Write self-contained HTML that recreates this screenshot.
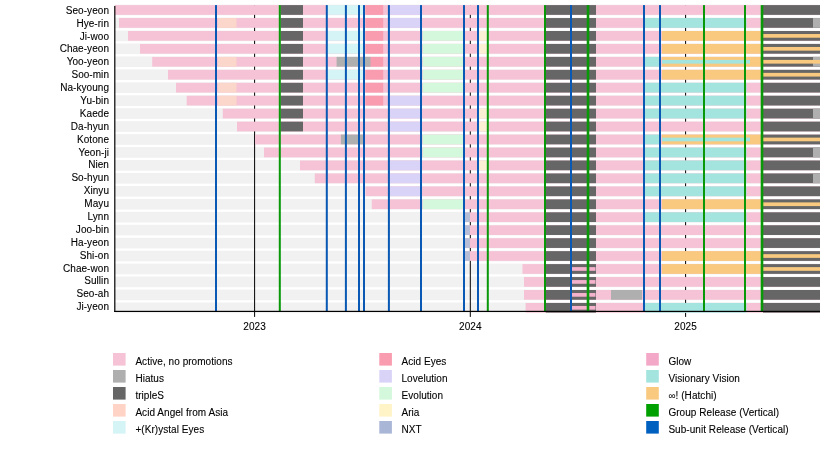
<!DOCTYPE html>
<html><head><meta charset="utf-8"><style>
html,body{margin:0;padding:0;background:#fff;width:830px;height:461px;overflow:hidden}
svg{display:block;filter:blur(0.35px)}
text{font-family:"Liberation Sans",sans-serif;font-size:10px;fill:#000;stroke:#000;stroke-width:0.1px;letter-spacing:0.05px}
</style></head><body>
<svg width="830" height="461" viewBox="0 0 830 461">
<rect x="115" y="4.65" width="705" height="10.65" fill="#F1F1F1"/>
<rect x="115" y="17.6" width="705" height="10.65" fill="#F1F1F1"/>
<rect x="115" y="30.55" width="705" height="10.65" fill="#F1F1F1"/>
<rect x="115" y="43.5" width="705" height="10.65" fill="#F1F1F1"/>
<rect x="115" y="56.45" width="705" height="10.65" fill="#F1F1F1"/>
<rect x="115" y="69.4" width="705" height="10.65" fill="#F1F1F1"/>
<rect x="115" y="82.35" width="705" height="10.65" fill="#F1F1F1"/>
<rect x="115" y="95.3" width="705" height="10.65" fill="#F1F1F1"/>
<rect x="115" y="108.25" width="705" height="10.65" fill="#F1F1F1"/>
<rect x="115" y="121.2" width="705" height="10.65" fill="#F1F1F1"/>
<rect x="115" y="134.15" width="705" height="10.65" fill="#F1F1F1"/>
<rect x="115" y="147.1" width="705" height="10.65" fill="#F1F1F1"/>
<rect x="115" y="160.05" width="705" height="10.65" fill="#F1F1F1"/>
<rect x="115" y="173" width="705" height="10.65" fill="#F1F1F1"/>
<rect x="115" y="185.95" width="705" height="10.65" fill="#F1F1F1"/>
<rect x="115" y="198.9" width="705" height="10.65" fill="#F1F1F1"/>
<rect x="115" y="211.85" width="705" height="10.65" fill="#F1F1F1"/>
<rect x="115" y="224.8" width="705" height="10.65" fill="#F1F1F1"/>
<rect x="115" y="237.75" width="705" height="10.65" fill="#F1F1F1"/>
<rect x="115" y="250.7" width="705" height="10.65" fill="#F1F1F1"/>
<rect x="115" y="263.65" width="705" height="10.65" fill="#F1F1F1"/>
<rect x="115" y="276.6" width="705" height="10.65" fill="#F1F1F1"/>
<rect x="115" y="289.55" width="705" height="10.65" fill="#F1F1F1"/>
<rect x="115" y="302.5" width="705" height="10.65" fill="#F1F1F1"/>
<rect x="254.1" y="5.1" width="1" height="311.8" fill="#000"/>
<rect x="469.8" y="5.1" width="1" height="311.8" fill="#000"/>
<rect x="685.1" y="5.1" width="1" height="311.8" fill="#000"/>
<rect x="115" y="5.1" width="705" height="9.75" fill="#F5C3D5"/>
<rect x="280.5" y="5.1" width="22.5" height="9.75" fill="#666666"/>
<rect x="327" y="5.1" width="37.2" height="9.75" fill="#D4F4F6"/>
<rect x="365.4" y="5.1" width="17.8" height="9.75" fill="#F99CAF"/>
<rect x="390" y="5.1" width="30.4" height="9.75" fill="#DAD3F8"/>
<rect x="545.7" y="5.1" width="50.3" height="9.75" fill="#666666"/>
<rect x="763" y="5.1" width="57" height="9.75" fill="#666666"/>
<rect x="119" y="18.05" width="701" height="9.75" fill="#F5C3D5"/>
<rect x="218" y="18.05" width="18.5" height="9.75" fill="#FBD6CA"/>
<rect x="280.5" y="18.05" width="22.5" height="9.75" fill="#666666"/>
<rect x="365.4" y="18.05" width="17.8" height="9.75" fill="#F99CAF"/>
<rect x="390" y="18.05" width="30.4" height="9.75" fill="#DAD3F8"/>
<rect x="545.7" y="18.05" width="50.3" height="9.75" fill="#666666"/>
<rect x="645" y="18.05" width="101.5" height="9.75" fill="#A3E4DF"/>
<rect x="763" y="18.05" width="57" height="9.75" fill="#666666"/>
<rect x="813" y="18.05" width="7" height="9.75" fill="#AFAFAF"/>
<rect x="128" y="31" width="692" height="9.75" fill="#F5C3D5"/>
<rect x="280.5" y="31" width="22.5" height="9.75" fill="#666666"/>
<rect x="327" y="31" width="37.2" height="9.75" fill="#D4F4F6"/>
<rect x="365.4" y="31" width="17.8" height="9.75" fill="#F99CAF"/>
<rect x="422.6" y="31" width="40.9" height="9.75" fill="#D3F8DC"/>
<rect x="479" y="31" width="8" height="9.75" fill="#FBF0D4"/>
<rect x="545.7" y="31" width="50.3" height="9.75" fill="#666666"/>
<rect x="662" y="31" width="100" height="9.75" fill="#F8C97F"/>
<rect x="763" y="31" width="57" height="9.75" fill="#666666"/>
<rect x="763" y="34.02" width="57" height="3.7" fill="#F8C97F"/>
<rect x="140" y="43.95" width="680" height="9.75" fill="#F5C3D5"/>
<rect x="280.5" y="43.95" width="22.5" height="9.75" fill="#666666"/>
<rect x="327" y="43.95" width="37.2" height="9.75" fill="#D4F4F6"/>
<rect x="365.4" y="43.95" width="17.8" height="9.75" fill="#F99CAF"/>
<rect x="422.6" y="43.95" width="40.9" height="9.75" fill="#D3F8DC"/>
<rect x="479" y="43.95" width="8" height="9.75" fill="#FBF0D4"/>
<rect x="545.7" y="43.95" width="50.3" height="9.75" fill="#666666"/>
<rect x="662" y="43.95" width="100" height="9.75" fill="#F8C97F"/>
<rect x="763" y="43.95" width="57" height="9.75" fill="#666666"/>
<rect x="763" y="46.97" width="57" height="3.7" fill="#F8C97F"/>
<rect x="152.2" y="56.9" width="667.8" height="9.75" fill="#F5C3D5"/>
<rect x="218" y="56.9" width="18.5" height="9.75" fill="#FBD6CA"/>
<rect x="280.5" y="56.9" width="22.5" height="9.75" fill="#666666"/>
<rect x="365.4" y="56.9" width="17.8" height="9.75" fill="#F99CAF"/>
<rect x="336.6" y="56.9" width="33.9" height="9.75" fill="#AFAFAF"/>
<rect x="422.6" y="56.9" width="40.9" height="9.75" fill="#D3F8DC"/>
<rect x="545.7" y="56.9" width="50.3" height="9.75" fill="#666666"/>
<rect x="645" y="56.9" width="15" height="9.75" fill="#A3E4DF"/>
<rect x="662" y="56.9" width="100" height="9.75" fill="#F8C97F"/>
<rect x="763" y="56.9" width="57" height="9.75" fill="#666666"/>
<rect x="813" y="56.9" width="7" height="9.75" fill="#AFAFAF"/>
<rect x="662" y="59.92" width="88" height="3.7" fill="#A3E4DF"/>
<rect x="763" y="59.92" width="57" height="3.7" fill="#F8C97F"/>
<rect x="168" y="69.85" width="652" height="9.75" fill="#F5C3D5"/>
<rect x="280.5" y="69.85" width="22.5" height="9.75" fill="#666666"/>
<rect x="327" y="69.85" width="37.2" height="9.75" fill="#D4F4F6"/>
<rect x="365.4" y="69.85" width="17.8" height="9.75" fill="#F99CAF"/>
<rect x="422.6" y="69.85" width="40.9" height="9.75" fill="#D3F8DC"/>
<rect x="545.7" y="69.85" width="50.3" height="9.75" fill="#666666"/>
<rect x="662" y="69.85" width="100" height="9.75" fill="#F8C97F"/>
<rect x="763" y="69.85" width="57" height="9.75" fill="#666666"/>
<rect x="763" y="72.88" width="57" height="3.7" fill="#F8C97F"/>
<rect x="176" y="82.8" width="644" height="9.75" fill="#F5C3D5"/>
<rect x="218" y="82.8" width="18.5" height="9.75" fill="#FBD6CA"/>
<rect x="280.5" y="82.8" width="22.5" height="9.75" fill="#666666"/>
<rect x="365.4" y="82.8" width="17.8" height="9.75" fill="#F99CAF"/>
<rect x="422.6" y="82.8" width="40.9" height="9.75" fill="#D3F8DC"/>
<rect x="545.7" y="82.8" width="50.3" height="9.75" fill="#666666"/>
<rect x="645" y="82.8" width="101.5" height="9.75" fill="#A3E4DF"/>
<rect x="763" y="82.8" width="57" height="9.75" fill="#666666"/>
<rect x="186.7" y="95.75" width="633.3" height="9.75" fill="#F5C3D5"/>
<rect x="218" y="95.75" width="18.5" height="9.75" fill="#FBD6CA"/>
<rect x="280.5" y="95.75" width="22.5" height="9.75" fill="#666666"/>
<rect x="365.4" y="95.75" width="17.8" height="9.75" fill="#F99CAF"/>
<rect x="390" y="95.75" width="30.4" height="9.75" fill="#DAD3F8"/>
<rect x="545.7" y="95.75" width="50.3" height="9.75" fill="#666666"/>
<rect x="645" y="95.75" width="101.5" height="9.75" fill="#A3E4DF"/>
<rect x="763" y="95.75" width="57" height="9.75" fill="#666666"/>
<rect x="222.8" y="108.7" width="597.2" height="9.75" fill="#F5C3D5"/>
<rect x="280.5" y="108.7" width="22.5" height="9.75" fill="#666666"/>
<rect x="390" y="108.7" width="30.4" height="9.75" fill="#DAD3F8"/>
<rect x="479" y="108.7" width="8" height="9.75" fill="#FBF0D4"/>
<rect x="545.7" y="108.7" width="50.3" height="9.75" fill="#666666"/>
<rect x="645" y="108.7" width="101.5" height="9.75" fill="#A3E4DF"/>
<rect x="763" y="108.7" width="57" height="9.75" fill="#666666"/>
<rect x="813" y="108.7" width="7" height="9.75" fill="#AFAFAF"/>
<rect x="237" y="121.65" width="583" height="9.75" fill="#F5C3D5"/>
<rect x="280.5" y="121.65" width="22.5" height="9.75" fill="#666666"/>
<rect x="390" y="121.65" width="30.4" height="9.75" fill="#DAD3F8"/>
<rect x="479" y="121.65" width="8" height="9.75" fill="#FBF0D4"/>
<rect x="545.7" y="121.65" width="50.3" height="9.75" fill="#666666"/>
<rect x="763" y="121.65" width="57" height="9.75" fill="#666666"/>
<rect x="255" y="134.6" width="565" height="9.75" fill="#F5C3D5"/>
<rect x="340.9" y="134.6" width="22" height="9.75" fill="#AFAFAF"/>
<rect x="422.6" y="134.6" width="40.9" height="9.75" fill="#D3F8DC"/>
<rect x="545.7" y="134.6" width="50.3" height="9.75" fill="#666666"/>
<rect x="645" y="134.6" width="15" height="9.75" fill="#A3E4DF"/>
<rect x="662" y="134.6" width="100" height="9.75" fill="#F8C97F"/>
<rect x="763" y="134.6" width="57" height="9.75" fill="#666666"/>
<rect x="662" y="137.62" width="88" height="3.7" fill="#A3E4DF"/>
<rect x="763" y="137.62" width="57" height="3.7" fill="#F8C97F"/>
<rect x="264" y="147.55" width="556" height="9.75" fill="#F5C3D5"/>
<rect x="422.6" y="147.55" width="40.9" height="9.75" fill="#D3F8DC"/>
<rect x="545.7" y="147.55" width="50.3" height="9.75" fill="#666666"/>
<rect x="645" y="147.55" width="101.5" height="9.75" fill="#A3E4DF"/>
<rect x="763" y="147.55" width="57" height="9.75" fill="#666666"/>
<rect x="813" y="147.55" width="7" height="9.75" fill="#AFAFAF"/>
<rect x="300" y="160.5" width="520" height="9.75" fill="#F5C3D5"/>
<rect x="390" y="160.5" width="30.4" height="9.75" fill="#DAD3F8"/>
<rect x="479" y="160.5" width="8" height="9.75" fill="#FBF0D4"/>
<rect x="545.7" y="160.5" width="50.3" height="9.75" fill="#666666"/>
<rect x="645" y="160.5" width="101.5" height="9.75" fill="#A3E4DF"/>
<rect x="763" y="160.5" width="57" height="9.75" fill="#666666"/>
<rect x="314.8" y="173.45" width="505.2" height="9.75" fill="#F5C3D5"/>
<rect x="390" y="173.45" width="30.4" height="9.75" fill="#DAD3F8"/>
<rect x="545.7" y="173.45" width="50.3" height="9.75" fill="#666666"/>
<rect x="645" y="173.45" width="101.5" height="9.75" fill="#A3E4DF"/>
<rect x="763" y="173.45" width="57" height="9.75" fill="#666666"/>
<rect x="813" y="173.45" width="7" height="9.75" fill="#AFAFAF"/>
<rect x="365.4" y="186.4" width="454.6" height="9.75" fill="#F5C3D5"/>
<rect x="390" y="186.4" width="30.4" height="9.75" fill="#DAD3F8"/>
<rect x="545.7" y="186.4" width="50.3" height="9.75" fill="#666666"/>
<rect x="645" y="186.4" width="101.5" height="9.75" fill="#A3E4DF"/>
<rect x="763" y="186.4" width="57" height="9.75" fill="#666666"/>
<rect x="371.8" y="199.35" width="448.2" height="9.75" fill="#F5C3D5"/>
<rect x="422.6" y="199.35" width="40.9" height="9.75" fill="#D3F8DC"/>
<rect x="545.7" y="199.35" width="50.3" height="9.75" fill="#666666"/>
<rect x="662" y="199.35" width="100" height="9.75" fill="#F8C97F"/>
<rect x="763" y="199.35" width="57" height="9.75" fill="#666666"/>
<rect x="763" y="202.38" width="57" height="3.7" fill="#F8C97F"/>
<rect x="465" y="212.3" width="355" height="9.75" fill="#F5C3D5"/>
<rect x="465" y="212.3" width="5" height="9.75" fill="#B6BDD6"/>
<rect x="545.7" y="212.3" width="50.3" height="9.75" fill="#666666"/>
<rect x="645" y="212.3" width="101.5" height="9.75" fill="#A3E4DF"/>
<rect x="763" y="212.3" width="57" height="9.75" fill="#666666"/>
<rect x="465" y="225.25" width="355" height="9.75" fill="#F5C3D5"/>
<rect x="465" y="225.25" width="5" height="9.75" fill="#B6BDD6"/>
<rect x="545.7" y="225.25" width="50.3" height="9.75" fill="#666666"/>
<rect x="763" y="225.25" width="57" height="9.75" fill="#666666"/>
<rect x="465" y="238.2" width="355" height="9.75" fill="#F5C3D5"/>
<rect x="465" y="238.2" width="5" height="9.75" fill="#B6BDD6"/>
<rect x="545.7" y="238.2" width="50.3" height="9.75" fill="#666666"/>
<rect x="763" y="238.2" width="57" height="9.75" fill="#666666"/>
<rect x="465" y="251.15" width="355" height="9.75" fill="#F5C3D5"/>
<rect x="465" y="251.15" width="5" height="9.75" fill="#B6BDD6"/>
<rect x="545.7" y="251.15" width="50.3" height="9.75" fill="#666666"/>
<rect x="662" y="251.15" width="100" height="9.75" fill="#F8C97F"/>
<rect x="763" y="251.15" width="57" height="9.75" fill="#666666"/>
<rect x="763" y="254.17" width="57" height="3.7" fill="#F8C97F"/>
<rect x="522.5" y="264.1" width="297.5" height="9.75" fill="#F5C3D5"/>
<rect x="545.7" y="264.1" width="50.3" height="9.75" fill="#666666"/>
<rect x="662" y="264.1" width="100" height="9.75" fill="#F8C97F"/>
<rect x="763" y="264.1" width="57" height="9.75" fill="#666666"/>
<rect x="572" y="267.12" width="23.5" height="3.7" fill="#F5B2CC"/>
<rect x="763" y="267.12" width="57" height="3.7" fill="#F8C97F"/>
<rect x="524" y="277.05" width="296" height="9.75" fill="#F5C3D5"/>
<rect x="545.7" y="277.05" width="50.3" height="9.75" fill="#666666"/>
<rect x="763" y="277.05" width="57" height="9.75" fill="#666666"/>
<rect x="572" y="280.07" width="23.5" height="3.7" fill="#F5B2CC"/>
<rect x="524" y="290" width="296" height="9.75" fill="#F5C3D5"/>
<rect x="545.7" y="290" width="50.3" height="9.75" fill="#666666"/>
<rect x="611" y="290" width="31" height="9.75" fill="#AFAFAF"/>
<rect x="763" y="290" width="57" height="9.75" fill="#666666"/>
<rect x="572" y="293.02" width="23.5" height="3.7" fill="#F5B2CC"/>
<rect x="525.6" y="302.95" width="294.4" height="9.75" fill="#F5C3D5"/>
<rect x="545.7" y="302.95" width="50.3" height="9.75" fill="#666666"/>
<rect x="645" y="302.95" width="101.5" height="9.75" fill="#A3E4DF"/>
<rect x="763" y="302.95" width="57" height="9.75" fill="#666666"/>
<rect x="572" y="305.97" width="23.5" height="3.7" fill="#F5B2CC"/>
<rect x="215" y="5.1" width="2" height="306.3" fill="#0858B4"/>
<rect x="325.8" y="5.1" width="2" height="306.3" fill="#0858B4"/>
<rect x="344.9" y="5.1" width="2" height="306.3" fill="#0858B4"/>
<rect x="358" y="5.1" width="2" height="306.3" fill="#0858B4"/>
<rect x="363" y="5.1" width="2" height="306.3" fill="#0858B4"/>
<rect x="387.9" y="5.1" width="2" height="306.3" fill="#0858B4"/>
<rect x="420" y="5.1" width="2" height="306.3" fill="#0858B4"/>
<rect x="463" y="5.1" width="2" height="306.3" fill="#0858B4"/>
<rect x="477" y="5.1" width="2" height="306.3" fill="#0858B4"/>
<rect x="570" y="5.1" width="2" height="306.3" fill="#0858B4"/>
<rect x="643" y="5.1" width="2" height="306.3" fill="#0858B4"/>
<rect x="659" y="5.1" width="2" height="306.3" fill="#0858B4"/>
<rect x="278.8" y="5.1" width="2" height="306.3" fill="#089808"/>
<rect x="486.8" y="5.1" width="2" height="306.3" fill="#089808"/>
<rect x="544" y="5.1" width="2" height="306.3" fill="#089808"/>
<rect x="586.7" y="5.1" width="2.6" height="306.3" fill="#089808"/>
<rect x="703" y="5.1" width="2" height="306.3" fill="#089808"/>
<rect x="744" y="5.1" width="2" height="306.3" fill="#089808"/>
<rect x="760.7" y="5.1" width="2.6" height="306.3" fill="#089808"/>
<rect x="114.2" y="5.9" width="1.2" height="306.1" fill="#000"/>
<rect x="114.2" y="310.8" width="705.8" height="1.2" fill="#000"/>
<rect x="113" y="353" width="12.6" height="12.6" fill="#F5C3D5"/>
<rect x="113" y="370" width="12.6" height="12.6" fill="#AFAFAF"/>
<rect x="113" y="387" width="12.6" height="12.6" fill="#666666"/>
<rect x="113" y="404" width="12.6" height="12.6" fill="#FFD3C6"/>
<rect x="113" y="421" width="12.6" height="12.6" fill="#D4F4F6"/>
<rect x="379.3" y="353" width="12.6" height="12.6" fill="#F99CAF"/>
<rect x="379.3" y="370" width="12.6" height="12.6" fill="#DAD3F8"/>
<rect x="379.3" y="387" width="12.6" height="12.6" fill="#D3F8DC"/>
<rect x="379.3" y="404" width="12.6" height="12.6" fill="#FFF4C8"/>
<rect x="379.3" y="421" width="12.6" height="12.6" fill="#A9B6D6"/>
<rect x="646.2" y="353" width="12.6" height="12.6" fill="#F4A8C8"/>
<rect x="646.2" y="370" width="12.6" height="12.6" fill="#A3E4DF"/>
<rect x="646.2" y="387" width="12.6" height="12.6" fill="#F8C97F"/>
<rect x="646.2" y="404" width="12.6" height="12.6" fill="#00A000"/>
<rect x="646.2" y="421" width="12.6" height="12.6" fill="#0060C0"/>
<text x="109.0" y="13.8" text-anchor="end">Seo-yeon</text>
<text x="109.0" y="26.69" text-anchor="end">Hye-rin</text>
<text x="109.0" y="39.58" text-anchor="end">Ji-woo</text>
<text x="109.0" y="52.47" text-anchor="end">Chae-yeon</text>
<text x="109.0" y="65.36" text-anchor="end">Yoo-yeon</text>
<text x="109.0" y="78.25" text-anchor="end">Soo-min</text>
<text x="109.0" y="91.14" text-anchor="end">Na-kyoung</text>
<text x="109.0" y="104.03" text-anchor="end">Yu-bin</text>
<text x="109.0" y="116.92" text-anchor="end">Kaede</text>
<text x="109.0" y="129.81" text-anchor="end">Da-hyun</text>
<text x="109.0" y="142.7" text-anchor="end">Kotone</text>
<text x="109.0" y="155.59" text-anchor="end">Yeon-ji</text>
<text x="109.0" y="168.48" text-anchor="end">Nien</text>
<text x="109.0" y="181.37" text-anchor="end">So-hyun</text>
<text x="109.0" y="194.26" text-anchor="end">Xinyu</text>
<text x="109.0" y="207.15" text-anchor="end">Mayu</text>
<text x="109.0" y="220.04" text-anchor="end">Lynn</text>
<text x="109.0" y="232.93" text-anchor="end">Joo-bin</text>
<text x="109.0" y="245.82" text-anchor="end">Ha-yeon</text>
<text x="109.0" y="258.71" text-anchor="end">Shi-on</text>
<text x="109.0" y="271.6" text-anchor="end">Chae-won</text>
<text x="109.0" y="284.49" text-anchor="end">Sullin</text>
<text x="109.0" y="297.38" text-anchor="end">Seo-ah</text>
<text x="109.0" y="310.27" text-anchor="end">Ji-yeon</text>
<text x="254.6" y="329.6" text-anchor="middle">2023</text>
<text x="470.3" y="329.6" text-anchor="middle">2024</text>
<text x="685.6" y="329.6" text-anchor="middle">2025</text>
<text x="135.4" y="364.8">Active, no promotions</text>
<text x="135.4" y="381.8">Hiatus</text>
<text x="135.4" y="398.8">tripleS</text>
<text x="135.4" y="415.8">Acid Angel from Asia</text>
<text x="135.4" y="432.8">+(Kr)ystal Eyes</text>
<text x="401.5" y="364.8">Acid Eyes</text>
<text x="401.5" y="381.8">Lovelution</text>
<text x="401.5" y="398.8">Evolution</text>
<text x="401.5" y="415.8">Aria</text>
<text x="401.5" y="432.8">NXT</text>
<text x="668.4" y="364.8">Glow</text>
<text x="668.4" y="381.8">Visionary Vision</text>
<text x="668.4" y="398.8"><tspan style="stroke-width:0">∞</tspan>! (Hatchi)</text>
<text x="668.4" y="415.8">Group Release (Vertical)</text>
<text x="668.4" y="432.8">Sub-unit Release (Vertical)</text>
</svg>
</body></html>
